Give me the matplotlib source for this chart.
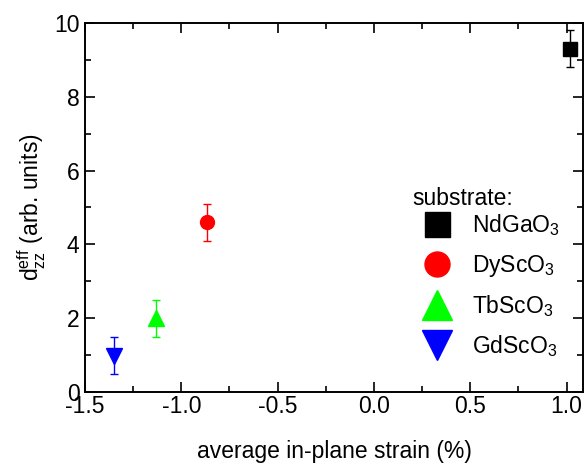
import matplotlib
matplotlib.use("Agg")
import matplotlib.pyplot as plt
from matplotlib.ticker import MultipleLocator

plt.rcParams['font.family'] = ['Liberation Sans', 'DejaVu Sans']
plt.rcParams['mathtext.fontset'] = 'custom'
plt.rcParams['mathtext.rm'] = 'Liberation Sans'
plt.rcParams['mathtext.it'] = 'Liberation Sans:italic'
plt.rcParams['mathtext.default'] = 'regular'

substrates = ['NdGaO$_3$', 'DyScO$_3$', 'TbScO$_3$', 'GdScO$_3$']
strain = [1.02, -0.865, -1.13, -1.35]
dzz = [9.3, 4.6, 2.0, 0.98]
err = [0.5, 0.5, 0.5, 0.5]
colors = ['black', 'red', '#00ff00', 'blue']
markers = ['s', 'o', '^', 'v']
msizes = [10, 10, 12, 12]

fig = plt.figure(figsize=(5.86, 4.65), dpi=100)
ax = fig.add_axes([85/586, 1 - 392/465, (583 - 85)/586, (392 - 23)/465])

for s, x, y, e, c, m, ms in zip(substrates, strain, dzz, err, colors, markers, msizes):
    ax.errorbar(x, y, yerr=e, fmt='none', ecolor=c, elinewidth=1.0, capsize=3, capthick=1.0)
    ax.plot(x, y, linestyle='none', marker=m, color=c, markersize=ms, label=s)

ax.set_xlim(-1.5, 1.085)
ax.set_ylim(0, 10)
ax.xaxis.set_major_locator(MultipleLocator(0.5))
ax.xaxis.set_minor_locator(MultipleLocator(0.25))
ax.yaxis.set_major_locator(MultipleLocator(2))
ax.yaxis.set_minor_locator(MultipleLocator(1))
ax.xaxis.set_major_formatter(matplotlib.ticker.FormatStrFormatter('%.1f'))
ax.tick_params(which='both', direction='in', top=True, right=True, labelsize=16.5, width=1.2)
ax.tick_params(which='major', length=7)
ax.tick_params(axis='x', which='major', pad=2)
ax.tick_params(axis='y', which='major', pad=4)
ax.tick_params(which='minor', length=4)
for sp in ax.spines.values():
    sp.set_linewidth(1.4)

ax.set_xlabel('average in-plane strain (%)', fontsize=16.5, labelpad=16)
ax.set_ylabel('d$_{zz}^{eff}$ (arb. units)', fontsize=16.5, labelpad=4)

leg = ax.legend(title='substrate:', loc='upper left', bbox_to_anchor=(0.625, 0.6),
                frameon=False, fontsize=16.5, title_fontsize=16.5, markerscale=1.8,
                handletextpad=0.45, labelspacing=0.62, borderpad=0.2, handlelength=2.15)
leg._legend_box.align = 'left'
leg._legend_box.sep = 2

fig.savefig('out.png', dpi=100)
